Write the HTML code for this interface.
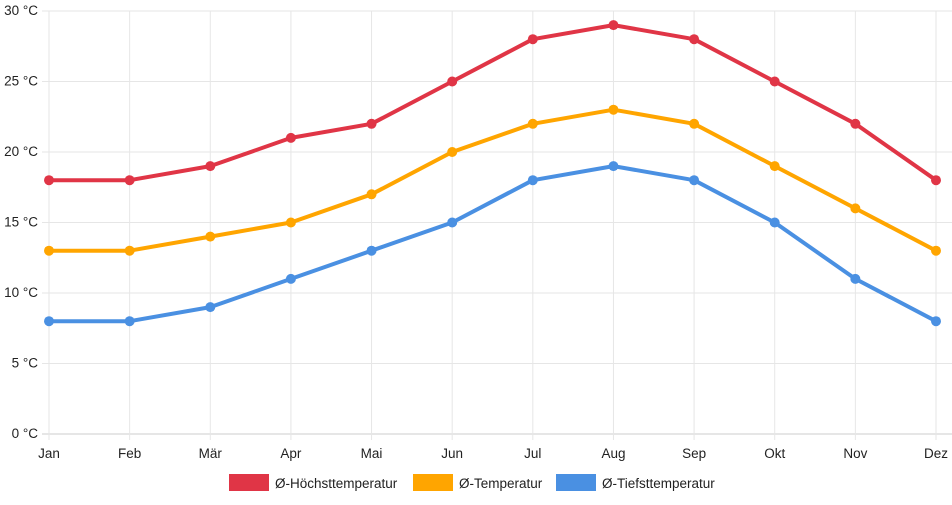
<!DOCTYPE html>
<html><head><meta charset="utf-8"><style>
body{margin:0;background:#fff;font-family:"Liberation Sans",sans-serif;}
svg text{font-family:"Liberation Sans",sans-serif;font-size:13.5px;fill:#222;}
</style></head><body>
<svg id="c" width="952" height="500"></svg>
<script>
const months=["Jan","Feb","Mär","Apr","Mai","Jun","Jul","Aug","Sep","Okt","Nov","Dez"];
const highs=[18,18,19,21,22,25,28,29,28,25,22,18];
const avgs=[13,13,14,15,17,20,22,23,22,19,16,13];
const lows=[8,8,9,11,13,15,18,19,18,15,11,8];
const yTicks=[0,5,10,15,20,25,30];
const seriesNames=["Ø-Höchsttemperatur","Ø-Temperatur","Ø-Tiefsttemperatur"];
const colors=["#e03546","#ffa500","#4a90e2"];
const svg=document.getElementById('c');
const NS="http://www.w3.org/2000/svg";
const x0=49,x1=936,yTop=11,yBot=434;
const X=i=>x0+(x1-x0)*i/(months.length-1);
const Y=v=>yBot-(yBot-yTop)*v/30;
function mk(t,a,p){const e=document.createElementNS(NS,t);for(const k in a)e.setAttribute(k,a[k]);(p||svg).appendChild(e);return e;}
yTicks.forEach(v=>{
  const l=mk('line',{x1:42,x2:x1+16,y1:Y(v),y2:Y(v),stroke:v===0?'#ccc':'#e6e6e6','stroke-width':1});
  
  
  const t=mk('text',{x:38,y:Y(v)+4,'text-anchor':'end'});t.textContent=v+' °C';
  
  
});
months.forEach((m,i)=>{
  const l=mk('line',{x1:X(i),x2:X(i),y1:yTop,y2:yBot+6,stroke:'#e6e6e6','stroke-width':1});
  
  
  const t=mk('text',{x:X(i),y:458,'text-anchor':'middle'});t.textContent=m;
  
  
});
[highs,avgs,lows].forEach((s,k)=>{
  const g=mk('g',{});
  
  
  const p=mk('polyline',{points:s.map((v,i)=>X(i)+','+Y(v)).join(' '),fill:'none',stroke:colors[k],'stroke-width':4,'stroke-linejoin':'round'},g);
  
  
  s.forEach((v,i)=>{
    const c=mk('circle',{cx:X(i),cy:Y(v),r:5,fill:colors[k]},g);
    
    
  });
});
const legX=[229,413,556];
seriesNames.forEach((n,k)=>{
  const g=mk('g',{});
  
  
  mk('rect',{x:legX[k],y:474,width:40,height:17,fill:colors[k]},g);
  const t=mk('text',{x:legX[k]+46,y:488},g);t.textContent=n;
});
</script>
</body></html>
